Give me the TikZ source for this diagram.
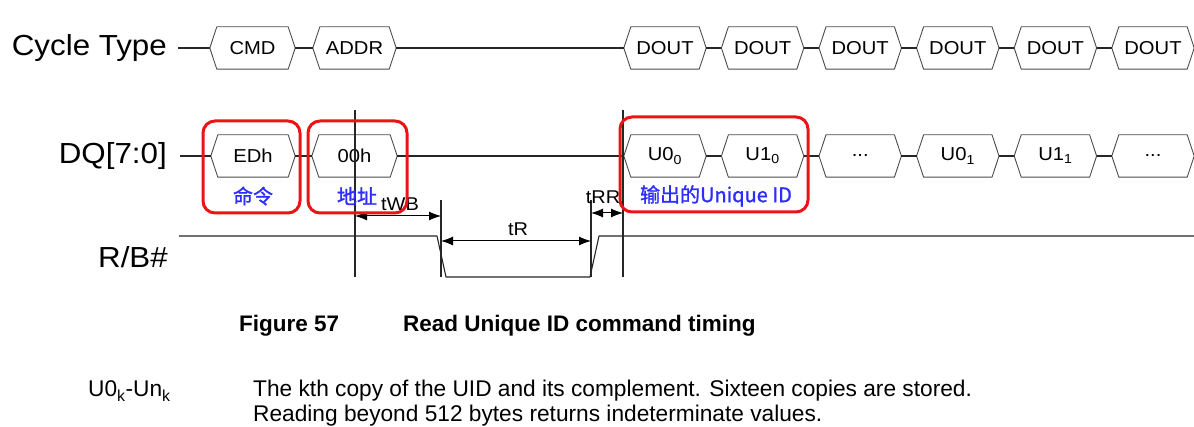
\documentclass[tikz,border=0pt]{standalone}
\usepackage{fontspec}
\setmainfont{Liberation Sans}
\newfontfamily\cjkf{Noto Sans CJK SC}[FakeBold=1.3]
\usetikzlibrary{arrows.meta}
\newcommand{\wx}[1]{\scalebox{1.08}[1]{#1}}
\definecolor{rbox}{RGB}{235,20,20}
\definecolor{cnblue}{RGB}{45,45,255}
\newcommand{\hexnode}[5]{%
  \node[hexlbl, minimum width={(#3-#2-14)*1pt}] (#1) at ({(#2+#3)/2},#4) {\wx{#5}};
  \draw[hexline] ([xshift=-7pt]#1.west) -- (#1.north west) -- (#1.north east) -- ([xshift=7pt]#1.east) -- (#1.south east) -- (#1.south west) -- cycle;
  \coordinate (#1-l) at ([xshift=-7pt]#1.west);
  \coordinate (#1-r) at ([xshift=7pt]#1.east);
}
\begin{document}
\begin{tikzpicture}[x=1pt,y=-1pt,
  sig/.style={line width=1.1pt, black!85},
  hexlbl/.style={inner sep=0pt, minimum height=42pt, font=\fontsize{18.7}{20}\selectfont},
  hexline/.style={line width=0.9pt, black!70, line join=round},
  redbox/.style={line width=3pt, draw=rbox, rounded corners=12pt},
  cn/.style={font=\cjkf\fontsize{20}{22}\selectfont, text=cnblue, inner sep=0pt},
  dim/.style={line width=1pt, {Latex[length=12pt,width=9pt]}-{Latex[length=12pt,width=9pt]}},
  lbl/.style={font=\fontsize{18.5}{20}\selectfont, inner sep=0pt},
  rowtitle/.style={font=\fontsize{29}{31}\selectfont, inner sep=0pt, anchor=east},
  captxt/.style={font=\bfseries\fontsize{22.5}{24}\selectfont, inner sep=0pt, anchor=base west},
  bodytxt/.style={font=\fontsize{22.7}{25}\selectfont, inner sep=0pt, anchor=base west}]
\useasboundingbox[fill=white] (0,0) rectangle (1194,427);

% row titles
\node[rowtitle] (ct) at (167,48) {\wx{Cycle Type}};
\node[rowtitle] (dq) at (167,156) {\wx{DQ[7:0]}};
\node[rowtitle] (rb) at (168,257) {\wx{R/B\#}};

% Cycle type row
\coordinate (ct0) at (178,48);
\hexnode{cmd}{210}{295}{48}{CMD}
\hexnode{addr}{313}{396}{48}{ADDR}
\foreach \i in {0,...,5} {
  \pgfmathsetmacro\L{624+97.6*\i}
  \pgfmathsetmacro\R{\L+82}
  \hexnode{d\i}{\L}{\R}{48}{DOUT}
}
\draw[sig] (ct0) -- (cmd-l);
\draw[sig] (cmd-r) -- (addr-l);
\draw[sig] (addr-r) -- (d0-l);
\foreach \i/\j in {0/1,1/2,2/3,3/4,4/5} \draw[sig] (d\i-r) -- (d\j-l);

% DQ row
\coordinate (dq0) at (180,156);
\hexnode{edh}{211}{295}{156}{EDh}
\hexnode{zzh}{312}{397}{156}{00h}
\foreach \i/\t in {0/{U0\textsubscript{0}},1/{U1\textsubscript{0}},2/{...},3/{U0\textsubscript{1}},4/{U1\textsubscript{1}},5/{...}} {
  \pgfmathsetmacro\L{624+97.6*\i}
  \pgfmathsetmacro\R{\L+82}
  \hexnode{u\i}{\L}{\R}{156}{\t}
}
\draw[sig] (dq0) -- (edh-l);
\draw[sig] (edh-r) -- (zzh-l);
\draw[sig] (zzh-r) -- (u0-l);
\foreach \i/\j in {0/1,1/2,2/3,3/4,4/5} \draw[sig] (u\i-r) -- (u\j-l);

% R/B# waveform
\coordinate (rb0) at (179,236);
\coordinate (f1) at (437,236);
\coordinate (f2) at (446,277);
\coordinate (r1) at (590,277);
\coordinate (r2) at (599,236);
\coordinate (rbend) at (1194,236);
\draw[sig, line join=round] (rb0) -- (f1) -- (f2) -- (r1) -- (r2) -- (rbend);

% vertical timing markers
\coordinate (v1t) at (355,110); \coordinate (v1b) at (355,277);
\coordinate (v2t) at (441,200); \coordinate (v2b) at (441,277);
\coordinate (v3t) at (591,200); \coordinate (v3b) at (591,277);
\coordinate (v4t) at (623,110); \coordinate (v4b) at (623,277);
\draw[sig] (v1t) -- (v1b);
\draw[sig] (v2t) -- (v2b);
\draw[sig] (v3t) -- (v3b);
\draw[sig] (v4t) -- (v4b);

% dimension arrows
\coordinate (wb1) at (355,216); \coordinate (wb2) at (441,216);
\coordinate (tr1) at (441,241); \coordinate (tr2) at (591,241);
\coordinate (rr1) at (591,213); \coordinate (rr2) at (623,213);
\draw[dim] (wb1) -- (wb2);
\draw[dim] (tr1) -- (tr2);
\draw[dim] (rr1) -- (rr2);
\node[lbl] (twb) at (400,204) {\wx{tWB}};
\node[lbl] (ttr) at (518,229) {\wx{tR}};
\node[lbl] (trr) at (603,197) {\wx{tRR}};

% Chinese annotations
\node[cn] (c1) at (253,196) {命令};
\node[cn] (c2) at (357,196) {地址};
\node[cn] (c3) at (716,196) {输出的Unique ID};

% red highlight boxes
\draw[redbox] (203,121) rectangle (300,213);
\draw[redbox] (308,121) rectangle (407,213);
\draw[redbox] (620,117) rectangle (808,212);

% caption
\node[captxt] (fig) at (239,332) {Figure 57};
\node[captxt] (figt) at (403,332) {Read Unique ID command timing};

% notes
\node[bodytxt] (n1) at (88,397) {U0\textsubscript{k}-Un\textsubscript{k}};
\node[bodytxt] (n2) at (253,397) {The kth copy of the UID and its complement. Sixteen copies are stored.};
\node[bodytxt] (n3) at (253,421) {Reading beyond 512 bytes returns indeterminate values.};
\end{tikzpicture}
\end{document}
